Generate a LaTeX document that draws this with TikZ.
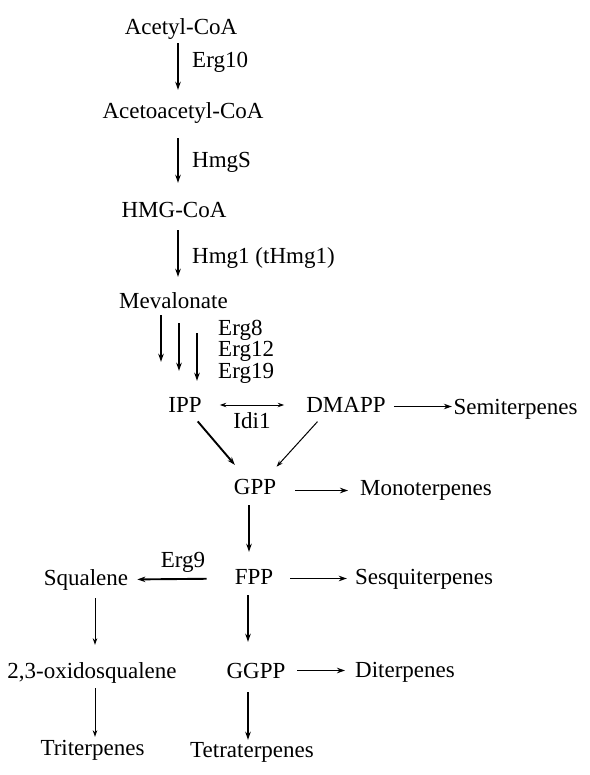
\documentclass[tikz,border=0pt]{standalone}
\usepackage{fontspec}
\setmainfont{Liberation Serif}
\usetikzlibrary{arrows.meta}

\begin{document}
\begin{tikzpicture}[x=1pt, y=-1pt, font=\fontsize{23}{27}\selectfont,
    >={Stealth[length=8pt, width=5.5pt]}]

\useasboundingbox (0,0) rectangle (589,775);

\begin{scope}[res/.style = {inner sep=0pt, text height=16pt, text depth=5pt, anchor=base}]
    \node[res] (1) at (181, 35) {Acetyl-CoA};
    \node[res] (2) at (183, 119) {Acetoacetyl-CoA};
    \node[res] (3) at (174, 218) {HMG-CoA};
    \node[res] (4) at (173.5, 308) {Mevalonate};
    \node[res] (5) at (185, 412) {IPP};
    \node[res] (6) at (346, 412) {DMAPP};
    \node[res] (7) at (515.5, 414) {Semiterpenes};
    \node[res] (8) at (255, 494) {GPP};
    \node[res] (9) at (426, 495) {Monoterpenes};
    \node[res] (10) at (254, 584) {FPP};
    \node[res] (11) at (424, 584) {Sesquiterpenes};
    \node[res] (12) at (86, 585) {Squalene};
    \node[res] (13) at (92, 678) {2,3-oxidosqualene};
    \node[res] (14) at (92.5, 755) {Triterpenes};
    \node[res] (15) at (256, 678) {GGPP};
    \node[res] (16) at (405, 677) {Diterpenes};
    \node[res] (17) at (252, 757) {Tetraterpenes};
\end{scope}

% enzymes
\begin{scope}[enz/.style = {inner sep=0pt, anchor=base west}]
    \node[enz] (e1) at (192, 68) {Erg10};
    \node[enz] (e2) at (192, 168) {HmgS};
    \node[enz] (e3) at (192, 263) {Hmg1 (tHmg1)};
    \node[enz] (e4) at (218, 335) {Erg8};
    \node[enz] (e5) at (218, 356.5) {Erg12};
    \node[enz] (e6) at (218, 378) {Erg19};
    \node[enz, anchor=base] (e7) at (252, 428) {Idi1};
    \node[enz, anchor=base] (e8) at (183, 567) {Erg9};
\end{scope}

\begin{scope}[line width=1.9pt, weak/.style = {line width=1pt, >={Stealth[length=6.5pt, width=4.5pt]}}]
    \draw[->, shorten <=3pt, shorten >=13pt] ([xshift=-3pt]1.south) -- ([xshift=-5pt]2.north);
    \draw[->, shorten <=14pt, shorten >=19pt] ([xshift=-5pt]2.south) -- ([xshift=4pt]3.north);
    \draw[->, shorten <=7pt, shorten >=15pt] ([xshift=4pt]3.south) -- ([xshift=4.5pt]4.north);

    \draw[->, shorten <=2pt, shorten >=34pt] ([xshift=-12.5pt]4.south) -- ([xshift=-24pt]5.north);
    \draw[->, shorten <=10pt, shorten >=25pt] ([xshift=5.5pt]4.south) -- ([xshift=-6pt]5.north);
    \draw[->, shorten <=20pt, shorten >=15pt] ([xshift=23.5pt]4.south) -- ([xshift=12pt]5.north);

    \draw[<->, weak, shorten <=18pt, shorten >=22pt] ([yshift=1.5pt]5.east) -- ([yshift=1.5pt]6.west);
    \draw[->, shorten <=8pt, shorten >=1.5pt] (6.east) -- (6.east -| 7.west);

    \draw[->, shorten <=5.5pt, shorten >=17pt] (5) -- (8);
    \draw[->, weak, shorten <=6pt, shorten >=15pt] ([xshift=-24.5pt]6.south) -- ([xshift=11.5pt]8.north);

    \draw[->, shorten <=19pt, shorten >=12pt] ([yshift=-2pt]8.east) -- ([yshift=-1pt]9.west);
    \draw[->, shorten <=6pt, shorten >=16pt] ([xshift=-6pt]8.south) -- ([xshift=-5pt]10.north);

    \draw[->, shorten <=17pt, shorten >=8pt] (10.east) -- (11.west);
    \draw[->, shorten <=28pt, shorten >=9pt] (10.west) -- (12.east);
    \draw[->, shorten <=6pt, shorten >=20pt] ([xshift=-6pt]10.south) -- ([xshift=-8pt]15.north);

    \draw[->, weak, shorten <=8pt, shorten >=17pt] ([xshift=9pt]12.south) -- ([xshift=3pt]13.north);
    \draw[->, weak, shorten <=5pt, shorten >=2pt] ([xshift=3pt]13.south) -- ([xshift=2.5pt]14.north);

    \draw[->, shorten <=11.5pt, shorten >=10pt] ([yshift=2pt]15.east) -- ([yshift=1pt]16.west);
    \draw[->, shorten <=9pt, shorten >=1pt] ([xshift=-8pt]15.south) -- ([xshift=-4pt]17.north);
\end{scope}

\end{tikzpicture}
\end{document}
